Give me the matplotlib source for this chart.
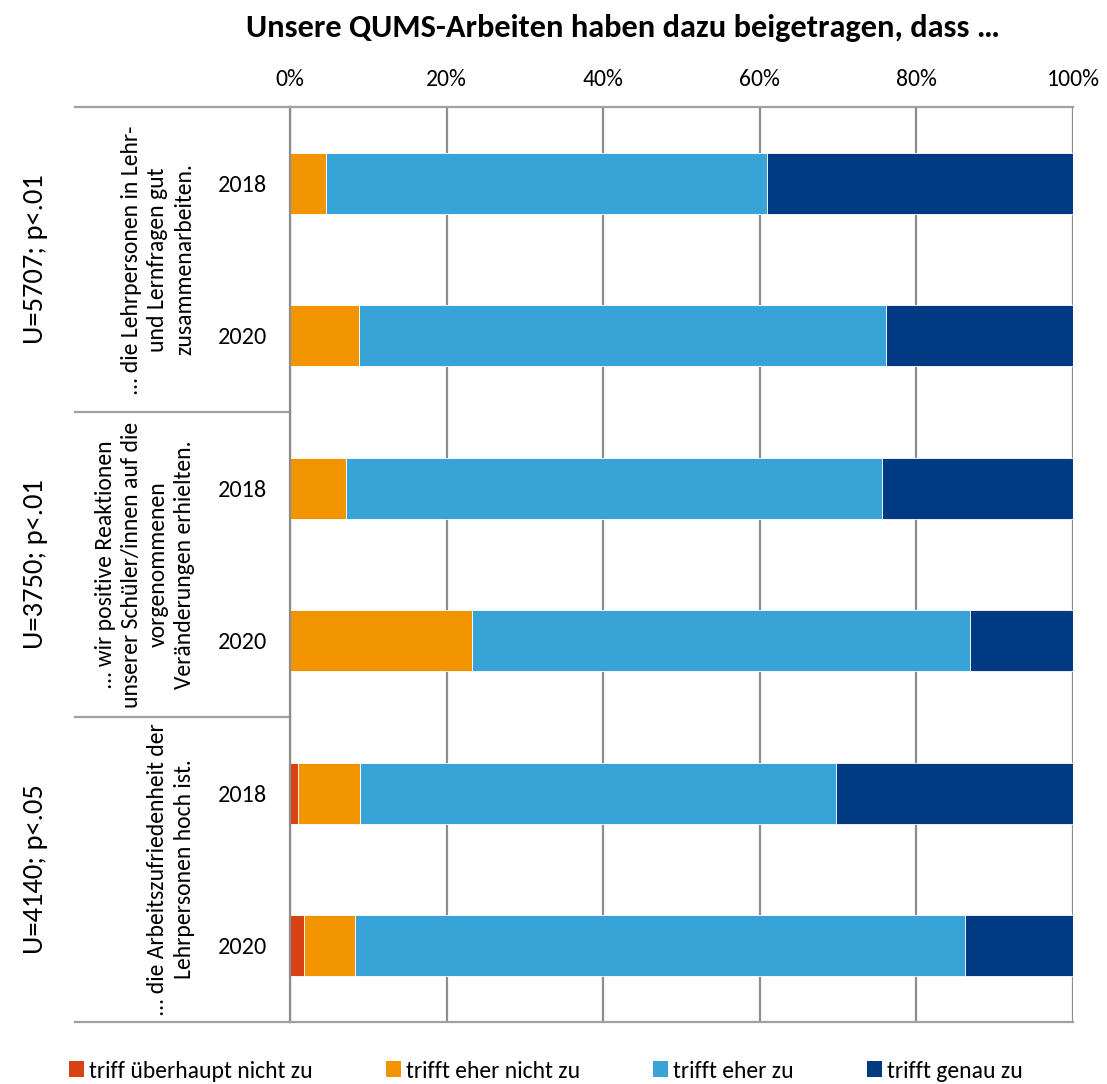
import matplotlib.pyplot as plt
import matplotlib.transforms as mtransforms
from matplotlib.patches import Patch

plt.rcParams['font.family'] = ['Carlito', 'Lato', 'DejaVu Sans']

title = "Unsere QUMS-Arbeiten haben dazu beigetragen, dass …"
years = ["2018", "2020", "2018", "2020", "2018", "2020"]
items = [
    "… die Lehrpersonen in Lehr-\nund Lernfragen gut\nzusammenarbeiten.",
    "… wir positive Reaktionen\nunserer Schüler/innen auf die\nvorgenommenen\nVeränderungen erhielten.",
    "… die Arbeitszufriedenheit der\nLehrpersonen hoch ist.",
]
tests = ["U=5707; p<.01", "U=3750; p<.01", "U=4140; p<.05"]
answers = ["triff überhaupt nicht zu", "trifft eher nicht zu", "trifft eher zu", "trifft genau zu"]

# percent per bar, top to bottom
not_at_all = [0.0, 0.0, 0.0, 0.0, 1.0, 1.8]
rather_not = [4.6, 8.8, 7.2, 23.2, 7.9, 6.5]
rather_yes = [56.3, 67.3, 68.4, 63.6, 60.8, 77.9]
fully = [39.1, 23.9, 24.4, 13.2, 30.3, 13.8]

colors = ["#D84315", "#F29400", "#38A3D6", "#003A82"]
grid_col = "#8C8C8C"

fig = plt.figure(figsize=(11.07, 10.84), dpi=100)
ax = fig.add_axes([0.262, 0.0572, 0.7073, 0.8441])

ypos = list(range(len(years)))
left = [0.0] * len(years)
for vals, col in zip([not_at_all, rather_not, rather_yes, fully], colors):
    ax.barh(ypos, vals, left=left, height=0.4, color=col, edgecolor="white", linewidth=0.6, zorder=2)
    left = [l + v for l, v in zip(left, vals)]

ax.set_xlim(0, 100)
ax.set_ylim(5.5, -0.5)
ax.xaxis.tick_top()
ax.set_xticks(range(0, 101, 20))
ax.set_xticklabels([f"{v}%" for v in range(0, 101, 20)], fontsize=17)
ax.tick_params(axis="x", length=0, pad=12)
ax.grid(axis="x", color=grid_col, linewidth=1.6, zorder=0)
ax.set_axisbelow(True)

ax.set_yticks(ypos)
ax.set_yticklabels(years, fontsize=17.5, ha="center")
ax.tick_params(axis="y", length=0, pad=34)

ax.spines["right"].set_visible(False)
ax.spines["left"].set_color(grid_col)
ax.spines["left"].set_linewidth(1.6)
for s in ["top", "bottom"]:
    ax.spines[s].set_color("#A0A0A0")
    ax.spines[s].set_linewidth(1.6)

# group dividers on the category side
trans = mtransforms.blended_transform_factory(ax.transAxes, ax.transData)
for yb in [-0.5, 1.5, 3.5, 5.5]:
    ax.plot([-0.2746, 0], [yb, yb], transform=trans, color="#A0A0A0", linewidth=1.6, clip_on=False)

for i, (txt, tst) in enumerate(zip(items, tests)):
    yc = 2 * i + 0.5
    ax.text(-0.1215, yc, txt, transform=trans, rotation=90, ha="right", va="center",
            multialignment="center", fontsize=17, linespacing=1.32)
    ax.text(-0.3257, yc, tst, transform=trans, rotation=90, ha="center", va="center", fontsize=20.5)

fig.text(623 / 1107, 1 - 28 / 1084, title, ha="center", va="center", fontsize=23.3, fontweight="bold")

handles = [Patch(facecolor=c, label=a) for c, a in zip(colors, answers)]
fig.legend(handles=handles, loc="center", bbox_to_anchor=(0.493, 1 - 1071 / 1084), ncol=4,
           frameon=False, fontsize=17, handlelength=0.65, handleheight=0.65, handletextpad=0.2,
           columnspacing=3.1)

fig.savefig("out.png", dpi=100)
